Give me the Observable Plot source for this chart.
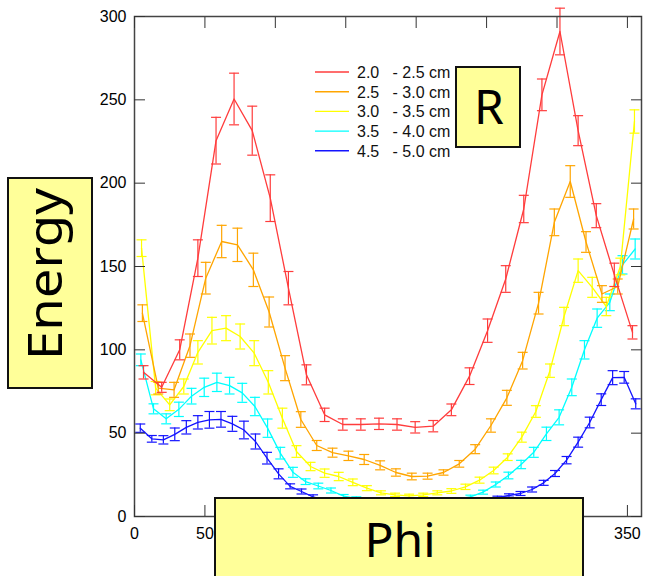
<!DOCTYPE html>
<html><head><meta charset="utf-8">
<script src="https://cdn.jsdelivr.net/npm/d3@7"></script>
<script src="https://cdn.jsdelivr.net/npm/@observablehq/plot@0.6"></script>
<style>
html,body{margin:0;padding:0;background:#fff;}
#chart{position:relative;width:671px;height:576px;overflow:hidden;}
</style></head><body><div id="chart"></div>
<script>
const xTicks = [0, 50, 100, 150, 200, 250, 300, 350];
const xTickLabelsShown = [0, 50, 350]; // the others lie under the "Phi" box
const yTicks = [0, 50, 100, 150, 200, 250, 300];
const legendLabels = ["2.0   - 2.5 cm", "2.5   - 3.0 cm", "3.0   - 3.5 cm", "3.5   - 4.0 cm", "4.5   - 5.0 cm"];
const colors = ["#ff3c3c", "#ffa500", "#ffff00", "#00ffff", "#1414ff"];

const phiRed = [6.4, 19.3, 32.1, 45.0, 57.9, 70.7, 83.6, 96.4, 109.3, 122.1, 135.0, 147.9, 160.7, 173.6, 186.4, 199.3, 212.1, 225.0, 237.9, 250.7, 263.6, 276.4, 289.3, 302.1, 315.0, 327.9, 340.7, 353.6];
const energyRed = [86.5, 77.5, 100, 155, 225.5, 250.5, 231.5, 191, 137, 85, 61, 55.2, 55.2, 55.6, 55.2, 53.5, 54.2, 64, 84.2, 111.5, 142.5, 184.5, 253, 291, 231.5, 180.5, 145, 110.5];
const errRed = [4, 3, 6, 11, 14, 15.5, 14.7, 14, 10, 6, 4, 3.4, 3.4, 3.4, 3.4, 3.4, 3.4, 3.5, 5, 7, 8, 8.2, 9.5, 14, 9, 7.2, 7, 4];

const phiOrange = [5.6, 16.9, 28.1, 39.4, 50.6, 61.9, 73.1, 84.4, 95.6, 106.9, 118.1, 129.4, 140.6, 151.9, 163.1, 174.4, 185.6, 196.9, 208.1, 219.4, 230.6, 241.9, 253.1, 264.4, 275.6, 286.9, 298.1, 309.4, 320.6, 331.9, 343.1, 354.4];
const energyOrange = [122, 77, 76, 102.5, 143, 165, 163, 148, 122.7, 89, 58.2, 42.6, 38.3, 36.4, 34.2, 30.7, 26.4, 24, 24.2, 26.4, 31.6, 40.4, 54.6, 71.2, 93.5, 128, 176.5, 201, 164.7, 133.5, 138, 178.5];
const errOrange = [5, 3.5, 4.5, 7, 9.5, 9.7, 10, 10, 9, 7.5, 4.7, 3, 2.7, 2.8, 3, 2.7, 2.2, 2, 1.8, 1.6, 2, 2.7, 4, 4.5, 5, 6.5, 8, 9.5, 6.2, 5, 4.5, 6];

const phiYellow = [5, 15, 25, 35, 45, 55, 65, 75, 85, 95, 105, 115, 125, 135, 145, 155, 165, 175, 185, 195, 205, 215, 225, 235, 245, 255, 265, 275, 285, 295, 305, 315, 325, 335, 345, 355];
const energyYellow = [161, 77, 67, 78, 98.5, 111.5, 113, 108, 98, 80.5, 59, 39, 30, 26, 24, 20.5, 17, 14.2, 13, 12.4, 13, 14.2, 15.3, 17.8, 21.8, 27.6, 35.6, 47.6, 63, 87.5, 120, 147.5, 137.5, 126, 150, 237];
const errYellow = [5, 4, 3.5, 4.5, 7, 8, 7.5, 7.5, 7.5, 7, 6, 3.5, 2.5, 2.5, 2.5, 2, 1.5, 1.2, 1, 1, 1, 1.2, 1.4, 1.6, 1.8, 2, 2, 3, 3.5, 4, 5.5, 7, 6, 5.5, 5, 7];

const phiCyan = [4.5, 13.5, 22.5, 31.5, 40.5, 49.5, 58.5, 67.5, 76.5, 85.5, 94.5, 103.5, 112.5, 121.5, 130.5, 139.5, 148.5, 157.5, 166.5, 175.5, 184.5, 193.5, 202.5, 211.5, 220.5, 229.5, 238.5, 247.5, 256.5, 265.5, 274.5, 283.5, 292.5, 301.5, 310.5, 319.5, 328.5, 337.5, 346.5, 355.5];
const energyCyan = [94, 64.6, 58.6, 64.3, 72.2, 77.5, 80.5, 78.5, 74.2, 66, 53, 38, 26.5, 20.9, 18.3, 15.6, 12.2, 10.8, 9.6, 9, 8.7, 8.6, 8.7, 9, 9.6, 10.5, 11.8, 14.6, 19.2, 24.6, 31.2, 38.5, 49.6, 59.5, 77.5, 100, 119, 128.5, 151, 160.5];
const errCyan = [3.5, 3, 3, 4.3, 4.7, 5.5, 5.5, 5, 5.7, 5.5, 5.5, 3.5, 3, 1.7, 1.7, 1.5, 1, 1, 0.8, 0.8, 0.8, 0.8, 0.8, 0.8, 0.8, 0.8, 1, 1.2, 1.5, 2, 2.5, 3, 4, 4.5, 5, 5.5, 5.5, 5, 5.5, 6];

const phiBlue = [4.1, 12.3, 20.5, 28.6, 36.8, 45.0, 53.2, 61.4, 69.5, 77.7, 85.9, 94.1, 102.3, 110.5, 118.6, 126.8, 135.0, 143.2, 151.4, 159.5, 167.7, 175.9, 184.1, 192.3, 200.5, 208.6, 216.8, 225.0, 233.2, 241.4, 249.5, 257.7, 265.9, 274.1, 282.3, 290.5, 298.6, 306.8, 315.0, 323.2, 331.4, 339.5, 347.7, 355.9];
const energyBlue = [53, 46.6, 46, 49.3, 53.5, 56.5, 58, 58.3, 55.6, 51.9, 45, 35, 25.6, 18.1, 15, 11.8, 9.8, 8.3, 7.2, 6.4, 5.8, 5.5, 5.4, 5.4, 5.6, 6, 6.5, 7.2, 8.1, 9.1, 10.2, 11.4, 12.6, 13.8, 16.2, 20.2, 25.8, 33.8, 44.6, 56.4, 70.1, 83.3, 83.5, 67.6];
const errBlue = [2.5, 2, 2.5, 3.8, 4, 4, 5, 4.7, 4.5, 5.3, 4.5, 3.5, 3, 1.5, 1.5, 1.2, 1, 1, 0.8, 0.8, 0.8, 0.8, 0.8, 0.8, 0.8, 0.8, 0.8, 0.8, 0.8, 0.8, 0.8, 0.8, 1, 1.2, 1.5, 1.5, 1.8, 2.2, 3, 3.2, 3.5, 4.2, 3.5, 3];

const series = [
  {label: legendLabels[0], color: colors[0], phi: phiRed, e: energyRed, err: errRed},
  {label: legendLabels[1], color: colors[1], phi: phiOrange, e: energyOrange, err: errOrange},
  {label: legendLabels[2], color: colors[2], phi: phiYellow, e: energyYellow, err: errYellow},
  {label: legendLabels[3], color: colors[3], phi: phiCyan, e: energyCyan, err: errCyan},
  {label: legendLabels[4], color: colors[4], phi: phiBlue, e: energyBlue, err: errBlue}
];
series.forEach(s => {
  s.rows = s.phi.map((p, i) => ({phi: p, e: s.e[i], lo: s.e[i] - s.err[i], hi: s.e[i] + s.err[i]}));
});

const cap = {draw(ctx) { ctx.moveTo(-5, 0); ctx.lineTo(5, 0); }};

const dataMarks = [];
[...series].reverse().forEach(s => {
  dataMarks.push(
    Plot.ruleX(s.rows, {x: "phi", y1: "lo", y2: "hi", stroke: s.color, strokeWidth: 1.2}),
    Plot.dot(s.rows, {x: "phi", y: "lo", symbol: cap, stroke: s.color, fill: "none", strokeWidth: 1.2}),
    Plot.dot(s.rows, {x: "phi", y: "hi", symbol: cap, stroke: s.color, fill: "none", strokeWidth: 1.2}),
    Plot.line(s.rows, {x: "phi", y: "e", stroke: s.color, strokeWidth: 1.3})
  );
});

const plot = Plot.plot({
  width: 671, height: 576,
  marginLeft: 134, marginRight: 30, marginTop: 16, marginBottom: 60,
  x: {domain: [0, 360]},
  y: {domain: [0, 300]},
  style: {fontFamily: "'Liberation Sans', Arial, sans-serif", fontSize: "16px", background: "white", color: "black", overflow: "visible"},
  marks: [
    ...dataMarks,
    Plot.frame({stroke: "#444", strokeWidth: 1.5}),
    Plot.axisX({anchor: "bottom", ticks: xTicks, tickSize: -11, tickFormat: () => "", label: null, stroke: "#333"}),
    Plot.axisX({anchor: "bottom", ticks: xTickLabelsShown, tickSize: 0, tickPadding: 11, label: null}),
    Plot.axisX({anchor: "top", ticks: xTicks, tickSize: -11, tickFormat: () => "", label: null, stroke: "#333"}),
    Plot.axisY({anchor: "left", ticks: yTicks, tickSize: -11, tickPadding: 19, label: null, stroke: "#333"}),
    Plot.axisY({anchor: "right", ticks: yTicks, tickSize: -11, tickFormat: () => "", label: null, stroke: "#333"})
  ]
});
document.getElementById("chart").appendChild(plot);

const svg = d3.select(plot);
const boxFont = "'Comic Sans MS', 'Noto Sans', sans-serif";
const boxFill = "#ffff99";

// legend
const lg = svg.append("g").attr("text-anchor", "start");
legendLabels.forEach((t, k) => {
  const y = 72 + 19.7 * k;
  lg.append("line").attr("x1", 315).attr("x2", 349).attr("y1", y).attr("y2", y).attr("stroke", colors[k]).attr("stroke-width", 1.4);
  lg.append("text").attr("x", 357).attr("y", y + 6).attr("font-size", 16).attr("font-family", "'Liberation Sans', Arial, sans-serif")
    .attr("text-anchor", "start").attr("xml:space", "preserve").style("white-space", "pre").attr("fill", "#111").text(t);
});

// R box
svg.append("rect").attr("x", 456).attr("y", 67).attr("width", 64).attr("height", 80).attr("fill", boxFill).attr("stroke", "#111").attr("stroke-width", 2);
svg.append("text").attr("x", 489).attr("y", 124).attr("text-anchor", "middle").attr("font-size", 48).attr("font-family", boxFont).attr("fill", "#000").text("R");

// Energy box
svg.append("rect").attr("x", 8).attr("y", 178).attr("width", 84).attr("height", 210).attr("fill", boxFill).attr("stroke", "#111").attr("stroke-width", 2);
svg.append("text").attr("transform", "translate(62,274) rotate(-90)").attr("text-anchor", "middle").attr("font-size", 48)
  .attr("font-family", boxFont).attr("textLength", 172).attr("lengthAdjust", "spacingAndGlyphs").attr("fill", "#000").text("Energy");

// Phi box
svg.append("rect").attr("x", 215).attr("y", 498).attr("width", 368).attr("height", 90).attr("fill", boxFill).attr("stroke", "#111").attr("stroke-width", 2);
svg.append("text").attr("x", 400).attr("y", 557).attr("text-anchor", "middle").attr("font-size", 48).attr("font-family", boxFont).attr("fill", "#000").text("Phi");
</script></body></html>
